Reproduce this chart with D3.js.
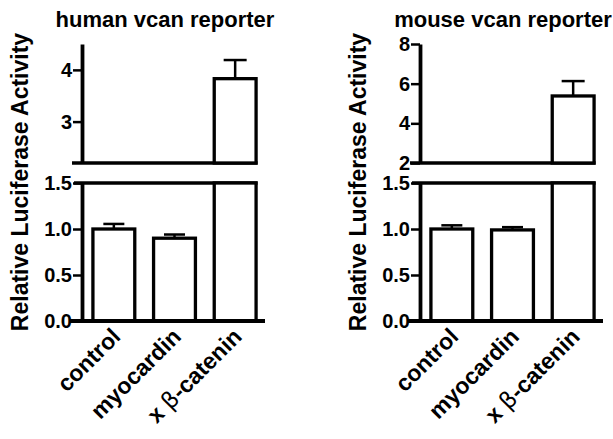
<!DOCTYPE html>
<meta charset="utf-8">
<script src="https://d3js.org/d3.v7.min.js"></script>
<style>
    body { margin: 0; background: #fff; }
    svg text { font-family: "Liberation Sans", Arial, sans-serif; font-weight: bold; fill: #000; }
</style>
<div id="chart"></div>
<script>
    // data
    var categories = ["control", "myocardin", "x β-catenin"];
    var humanMeans = [1.00, 0.90, 3.83];
    var humanErr = [0.055, 0.04, 0.36];
    var mouseMeans = [1.00, 0.99, 5.38];
    var mouseErr = [0.04, 0.03, 0.75];
    var lowerTicks = [0, 0.5, 1.0, 1.5];
    var humanUpperTicks = [3, 4];
    var mouseUpperTicks = [2, 4, 6, 8];

    var svg = d3.select("#chart").append("svg")
        .attr("width", 613)
        .attr("height", 439);

    var panels = [
        { title: "human vcan reporter", means: humanMeans, errs: humanErr, upper: [2.2, 4.5], ticks: humanUpperTicks, ox: 0 },
        { title: "mouse vcan reporter", means: mouseMeans, errs: mouseErr, upper: [2, 8], ticks: mouseUpperTicks, ox: 338 }
    ];

    panels.forEach(drawPanel);

    function drawPanel(p) {
        const ax = 82 + p.ox       // y axis position
        const g = svg.append("g")

        const x = d3.scaleBand()
            .domain(categories)
            .range([ax, ax + 185])
            .paddingInner(0.31)
            .paddingOuter(0.18)

        const yLow = d3.scaleLinear().domain([0, 1.5]).range([321, 183])
        const yUp = d3.scaleLinear().domain(p.upper).range([163, 44])

        // title
        g.append("text")
            .attr("x", 165 + p.ox)
            .attr("y", 27)
            .attr("text-anchor", "middle")
            .style("font-size", "22px")
            .text(p.title)

        // y label
        g.append("text")
            .attr("transform", `translate(${28 + p.ox},182) rotate(-90)`)
            .attr("text-anchor", "middle")
            .style("font-size", "23px")
            .text("Relative Luciferase Activity")

        // horizontal lines at the break
        const right = x(categories[categories.length - 1]) + x.bandwidth() + 1.5
        g.append("path")
            .attr("d", d3.line()([[ax - 10, yUp.range()[0]], [right, yUp.range()[0]]]))
            .attr("stroke", "#000").attr("stroke-width", 3.5)
        g.append("path")
            .attr("d", d3.line()([[ax - 8, yLow(1.5)], [right, yLow(1.5)]]))
            .attr("stroke", "#000").attr("stroke-width", 3.5)

        // bars, lower segment
        g.selectAll(".barLow")
            .data(p.means)
            .join("rect")
            .attr("x", (d, i) => x(categories[i]))
            .attr("width", x.bandwidth())
            .attr("y", d => yLow(Math.min(d, 1.5)))
            .attr("height", d => yLow(0) - yLow(Math.min(d, 1.5)))
            .attr("fill", "white")
            .attr("stroke", "#000")
            .attr("stroke-width", 3.3)

        // bars, upper segment
        p.means.forEach(function (d, i) {
            if (d <= p.upper[0]) return
            g.append("rect")
                .attr("x", x(categories[i]))
                .attr("width", x.bandwidth())
                .attr("y", yUp(d))
                .attr("height", yUp(p.upper[0]) - yUp(d))
                .attr("fill", "white")
                .attr("stroke", "#000")
                .attr("stroke-width", 3.3)
        })

        // error bars (upper only)
        p.means.forEach(function (d, i) {
            const y = d > 1.5 ? yUp : yLow
            const cx = x(categories[i]) + x.bandwidth() / 2
            const cap = d > 1.5 ? 11.5 : 10.5
            g.append("path")
                .attr("d", d3.line()([[cx, y(d)], [cx, y(d + p.errs[i])]]))
                .attr("stroke", "#000").attr("stroke-width", 2.5)
            g.append("path")
                .attr("d", d3.line()([[cx - cap, y(d + p.errs[i])], [cx + cap, y(d + p.errs[i])]]))
                .attr("stroke", "#000").attr("stroke-width", 2.5)
        })

        // y axes
        const upAxis = g.append("g")
            .attr("transform", `translate(${ax},0)`)
            .call(d3.axisLeft(yUp).tickValues(p.ticks).tickFormat(d3.format("d")).tickSize(9).tickSizeOuter(0).tickPadding(1))
        const lowAxis = g.append("g")
            .attr("transform", `translate(${ax},0)`)
            .call(d3.axisLeft(yLow).tickValues(lowerTicks).tickFormat(d3.format(".1f")).tickSize(9).tickSizeOuter(0).tickPadding(1))

        // x axis
        const xAxis = g.append("g")
            .attr("transform", `translate(0,${yLow(0)})`)
            .call(d3.axisBottom(x).tickSize(0).tickSizeOuter(0))
        xAxis.select(".domain").attr("d", `M${ax - 12},0H${ax + 183}`)

        for (const a of [upAxis, lowAxis, xAxis]) {
            a.select(".domain").attr("stroke", "#000").attr("stroke-width", 3.8)
            a.selectAll(".tick line").attr("stroke", "#000").attr("stroke-width", 2.5)
            a.selectAll("text").style("font-size", "20px").attr("fill", "#000")
        }

        xAxis.selectAll(".tick text")
            .style("font-size", "23px")
            .attr("y", 0).attr("dy", 0)
            .attr("text-anchor", "end")
            .attr("transform", "translate(8,17) rotate(-45)")
            .each(function (d) {
                const t = d3.select(this)
                if (d.indexOf("β") < 0) return
                t.text(null)
                t.append("tspan").text("x ")
                t.append("tspan").style("font-weight", "normal").style("font-family", "DejaVu Sans").text("β")
                t.append("tspan").text("-catenin")
            })
    }
</script>
